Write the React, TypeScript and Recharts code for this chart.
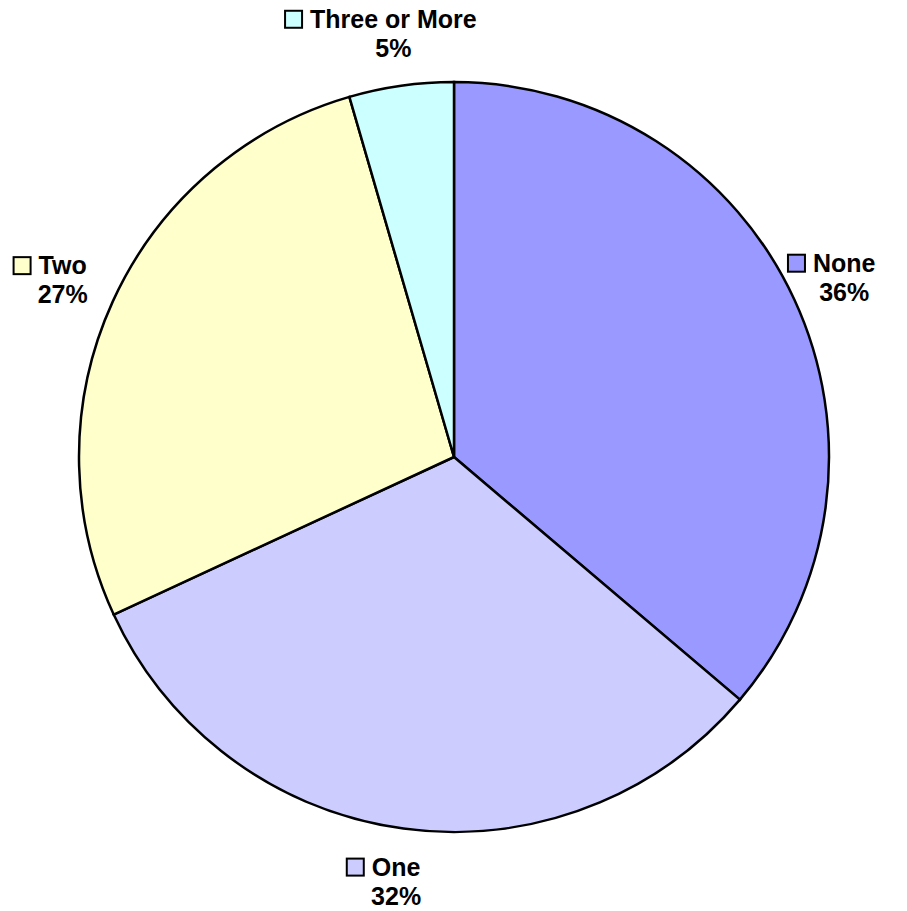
import { PieChart, Pie, Cell } from 'recharts'

const categories = ['None', 'One', 'Two', 'Three or More']
const shares = [36.2, 31.9, 27.4, 4.5]
const colors = ['#9999FF', '#CCCCFF', '#FFFFCC', '#CCFFFF']

const data = categories.map((name, i) => ({ name, value: shares[i] }))

const FONT = 'bold 25px "Liberation Sans", Arial, sans-serif'

let ctx: CanvasRenderingContext2D | null = null
function textWidth(s: string) {
  if (!ctx) ctx = document.createElement('canvas').getContext('2d')
  if (!ctx) return s.length * 14
  ctx.font = FONT
  return ctx.measureText(s).width
}

// label block: square + name, percent underneath, centred on the text
function SliceLabel(props: any) {
  const { cx, cy, midAngle, outerRadius, name, percent, index } = props
  const rad = (-midAngle * Math.PI) / 180
  const tx = cx + (outerRadius + 55) * Math.cos(rad)
  const ty = cy + (outerRadius + 53) * Math.sin(rad)
  const w = textWidth(name)
  const base1 = ty - 5.5
  const base2 = ty + 23.5
  const left = tx - w / 2
  const textStyle = {
    fontFamily: '"Liberation Sans", Arial, sans-serif',
    fontWeight: 700,
    fontSize: 25,
  }
  return (
    <g>
      <rect
        x={left - 25}
        y={base1 - 17}
        width={17}
        height={17}
        fill={colors[index]}
        stroke="#000"
        strokeWidth={2}
      />
      <text x={tx} y={base1} textAnchor="middle" fill="#000" style={textStyle}>
        {name}
      </text>
      <text x={tx} y={base2} textAnchor="middle" fill="#000" style={textStyle}>
        {Math.round(percent * 100)}%
      </text>
    </g>
  )
}

export default function App() {
  return (
    <div style={{ width: 899, height: 903 }}>
      <PieChart width={899} height={903} margin={{ top: 0, right: 0, bottom: 0, left: 0 }}>
        <Pie
          data={data}
          dataKey="value"
          nameKey="name"
          cx={446}
          cy={449}
          outerRadius={375}
          startAngle={90}
          endAngle={-270}
          label={SliceLabel}
          labelLine={false}
          isAnimationActive={false}
        >
          {data.map((d, i) => (
            <Cell key={d.name} fill={colors[i]} stroke="#000" strokeWidth={2.5} />
          ))}
        </Pie>
      </PieChart>
    </div>
  )
}
